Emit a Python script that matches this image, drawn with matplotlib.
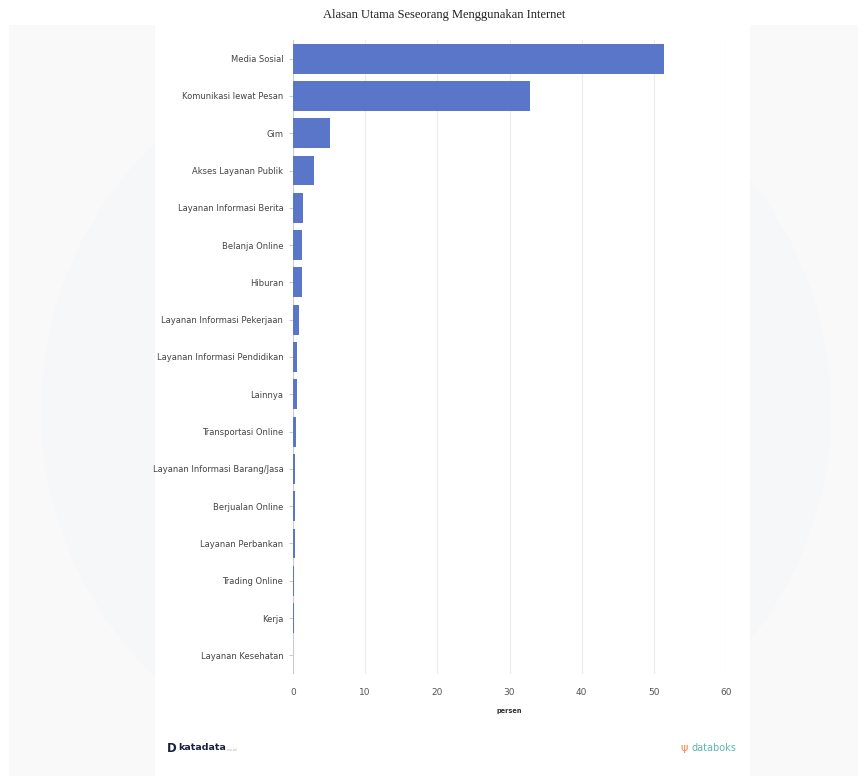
"""Alasan Utama Seseorang Menggunakan Internet — horizontal bar, databoks style."""
import matplotlib
matplotlib.use("Agg")
import matplotlib.pyplot as plt
from matplotlib.patches import Rectangle, Ellipse

categories = ["Media Sosial", "Komunikasi lewat Pesan", "Gim", "Akses Layanan Publik",
              "Layanan Informasi Berita", "Belanja Online", "Hiburan",
              "Layanan Informasi Pekerjaan", "Layanan Informasi Pendidikan", "Lainnya",
              "Transportasi Online", "Layanan Informasi Barang/Jasa", "Berjualan Online",
              "Layanan Perbankan", "Trading Online", "Kerja", "Layanan Kesehatan"]
values = [51.4, 32.8, 5.1, 2.9, 1.35, 1.25, 1.25, 0.88, 0.6, 0.6,
          0.42, 0.33, 0.33, 0.25, 0.08, 0.07, 0.06]
xticks = [0, 10, 20, 30, 40, 50, 60]

BAR = "#5a76c8"
W, H = 867, 780
fig = plt.figure(figsize=(W / 100, H / 100), dpi=100)
fig.patch.set_facecolor("white")

# light grey backdrop with a faint watermark circle, white centre panel
bg = Rectangle((9 / W, 1 - 776 / H), 849 / W, 751 / H, transform=fig.transFigure,
               facecolor="#f9f9fa", edgecolor="none", zorder=-3)
fig.patches.append(bg)
wm = Ellipse((436 / W, 1 - 410 / H), 790 / W, 760 / H, transform=fig.transFigure,
             facecolor="#f6f7f9", edgecolor="none", zorder=-2)
wm.set_clip_path(bg)
fig.patches.append(wm)
fig.patches.append(Rectangle((155 / W, 1 - 776 / H), 595 / W, 751 / H, transform=fig.transFigure,
                             facecolor="white", edgecolor="none", zorder=-1))

ax = fig.add_axes([293 / W, 1 - 674 / H, 433 / W, 634 / H])
ax.set_facecolor("none")
y = list(range(len(categories)))
ax.barh(y, values, height=0.8, color=BAR, zorder=3)
ax.set_ylim(len(categories) - 0.5, -0.5)
ax.set_xlim(0, 60)
ax.set_yticks(y)
ax.set_yticklabels(categories, fontsize=6, color="#444444")
ax.set_xticks(xticks)
ax.set_xticklabels([str(t) for t in xticks], fontsize=6.5, color="#555555")
ax.tick_params(axis="y", length=3, color="#cccccc", pad=4)
ax.tick_params(axis="x", length=0, pad=10)
ax.grid(True, axis="x", color="#ececec", lw=0.8, zorder=0)
for s in ax.spines.values():
    s.set_visible(False)
ax.axvline(0, color="#cccccc", lw=0.8, zorder=2)
ax.set_xlabel("persen", fontsize=4.8, fontweight="bold", color="#333333", labelpad=8)

fig.text(444 / W, 1 - 15 / H, "Alasan Utama Seseorang Menggunakan Internet",
         family="Liberation Serif", fontsize=9, color="#222222", ha="center", va="center")

# footer logos
fig.text(167 / W, 1 - 748 / H, "D", fontsize=8.5, fontweight="bold", color="#1b2240",
         ha="left", va="center")
fig.text(178 / W, 1 - 748 / H, "katadata", fontsize=6.8, fontweight="bold", color="#1b2240",
         ha="left", va="center")
fig.text(227 / W, 1 - 750 / H, ".co.id", fontsize=2.8, color="#aaaaaa", ha="left", va="center")
fig.text(684 / W, 1 - 748 / H, "ψ", fontsize=8, color="#f08a4b", ha="center", va="center")
fig.text(736 / W, 1 - 748 / H, "databoks", fontsize=7, color="#5cb8b2", ha="right", va="center")

fig.savefig("out.png", dpi=100)
